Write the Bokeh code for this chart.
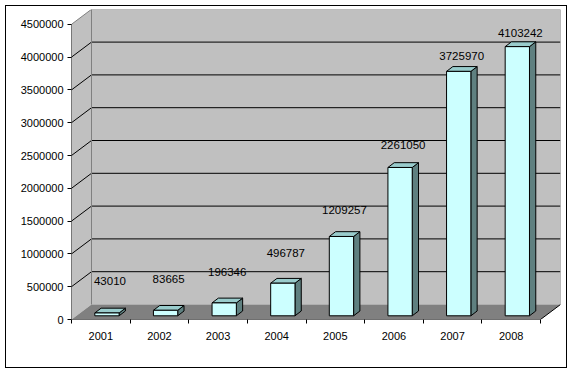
from bokeh.plotting import figure
from bokeh.models import Range1d, FixedTicker, BasicTickFormatter
from bokeh.core.properties import value
from bokeh.embed import file_html
from bokeh.resources import INLINE

# ---- data ----
years = ["2001", "2002", "2003", "2004", "2005", "2006", "2007", "2008"]
counts = [43010, 83665, 196346, 496787, 1209257, 2261050, 3725970, 4103242]
y_ticks = [0, 500000, 1000000, 1500000, 2000000, 2500000, 3000000, 3500000, 4000000, 4500000]

# ---- geometry (screen pixels -> data units) ----
PX_PER_CAT = 58.625
PX_PER_UNIT = 32.8 / 500000.0


def dxp(px):
    return px / PX_PER_CAT


def dyp(px):
    return px / PX_PER_UNIT


n = len(years)
top = y_ticks[-1]
W, H = 572, 373
FRAME_W, FRAME_H = 489, 310
WX, WY = dxp(20), dyp(15)          # wall depth
FX, FY = dxp(5), dyp(3.7)          # bar front offset
BX, BY = dxp(11.3), dyp(8.5)       # bar back offset
BL, BW = dxp(18.3), dxp(24.3)      # bar left within category, bar width

FONT = "Liberation Sans"

p = figure(width=W, height=H, output_backend="svg", toolbar_location=None,
           x_range=Range1d(0, dxp(FRAME_W)), y_range=Range1d(0, dyp(FRAME_H)),
           min_border_left=71, min_border_right=W - 71 - FRAME_W, min_border_top=9,
           min_border_bottom=H - 9 - FRAME_H,
           background_fill_color=None, border_fill_color=None,
           styles={"box-shadow": "inset 0 0 0 5px white, inset 0 0 0 6px black",
                   "background-color": "white"})
p.outline_line_color = None
p.grid.visible = False

# walls and floor
p.patch([WX, n + WX, n + WX, WX], [WY, WY, top + WY, top + WY],
        fill_color="#C0C0C0", line_color=None)
p.patch([0, WX, WX, 0], [0, WY, top + WY, top], fill_color="#C0C0C0", line_color=None)
p.patch([0, n, n + WX, WX], [0, 0, WY, WY], fill_color="#808080", line_color=None)

# gridlines
inner = y_ticks[1:-1]
p.segment(x0=[WX] * len(inner), y0=[t + WY for t in inner],
          x1=[n + WX] * len(inner), y1=[t + WY for t in inner], line_color="black", line_width=1)
p.segment(x0=[0] * len(inner), y0=inner, x1=[WX] * len(inner), y1=[t + WY for t in inner],
          line_color="black", line_width=1)
# wall edges (gray)
p.segment(x0=[WX, WX, n + WX, 0], y0=[WY, top + WY, WY, top],
          x1=[WX, n + WX, n + WX, WX], y1=[top + WY, top + WY, top + WY, top + WY],
          line_color="#808080", line_width=1)
# floor front/right edges and y axis line
p.segment(x0=[0, n, 0], y0=[0, 0, 0], x1=[n, n + WX, 0], y1=[0, WY, top],
          line_color="black", line_width=1)

# bars
side_xs, side_ys, top_xs, top_ys = [], [], [], []
fl, fr, fb, ft = [], [], [], []
for i, v in enumerate(counts):
    x0 = i + BL
    x1 = x0 + BW
    side_xs.append([x1 + FX, x1 + BX, x1 + BX, x1 + FX])
    side_ys.append([FY, BY, v + BY, v + FY])
    top_xs.append([x0 + FX, x1 + FX, x1 + BX, x0 + BX])
    top_ys.append([v + FY, v + FY, v + BY, v + BY])
    fl.append(x0 + FX)
    fr.append(x1 + FX)
    fb.append(FY)
    ft.append(v + FY)
p.patches(side_xs, side_ys, fill_color="#5F8080", line_color="black", line_width=1)
p.patches(top_xs, top_ys, fill_color="#99CCCC", line_color="black", line_width=1)
p.quad(left=fl, right=fr, bottom=fb, top=ft, fill_color="#CCFFFF", line_color="black", line_width=1)

# value labels (perspective: low bars carry their labels a little higher)
lx = [i + BL + BW / 2 + FX + dxp(3) for i in range(n)]
ly = [v + FY + dyp(32 - 4.4 * v / 1e6) for v in counts]
p.text(x=lx, y=ly, text=[str(v) for v in counts], text_font=value(FONT),
       text_font_size="11.5px", text_color="black", text_align="center", text_baseline="middle")

# axes
ya = p.yaxis[0]
ya.ticker = FixedTicker(ticks=y_ticks)
ya.formatter = BasicTickFormatter(use_scientific=False)
ya.axis_line_color = None
ya.major_tick_in = 0
ya.major_tick_out = 4
ya.major_tick_line_color = "black"
ya.minor_tick_line_color = None
ya.major_label_standoff = 4
ya.major_label_text_font = FONT
ya.major_label_text_font_size = "11px"
ya.major_label_text_color = "black"

xa = p.xaxis[0]
xa.ticker = FixedTicker(ticks=[i + 0.5 for i in range(n)], minor_ticks=list(range(n + 1)))
xa.major_label_overrides = {i + 0.5: y for i, y in enumerate(years)}
xa.axis_line_color = None
xa.major_tick_in = 0
xa.major_tick_out = 0
xa.minor_tick_in = 0
xa.minor_tick_out = 4
xa.minor_tick_line_color = "black"
xa.major_label_standoff = 8
xa.major_label_text_font = FONT
xa.major_label_text_font_size = "11px"
xa.major_label_text_color = "black"

open("out.html", "w").write(file_html(p, INLINE))
